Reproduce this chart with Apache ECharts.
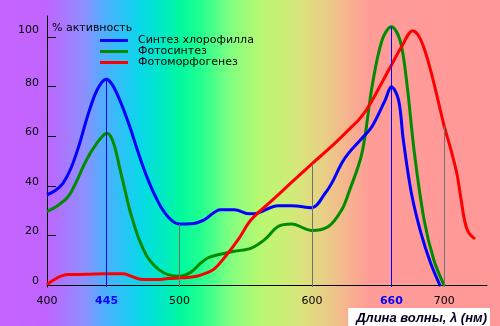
<!DOCTYPE html>
<html>
<head>
<meta charset="utf-8">
<script src="https://cdn.jsdelivr.net/npm/echarts@6/dist/echarts.min.js"></script>
<style>
  html, body { margin: 0; padding: 0; }
  #chart { width: 500px; height: 326px; }
</style>
</head>
<body>
<div id="chart"></div>
<script>
// Action spectra: [wavelength, nm ; activity, %]
const chlorophyllSynthesis = [
  [400, 36.4], [406, 38], [412, 41], [418, 47], [424, 56], [430, 67], [436, 76.5],
  [441, 81.5], [445, 83], [449, 81], [453, 77], [458, 70.5], [462.4, 64], [467, 56.5],
  [472, 48.5], [477, 41.5], [481.6, 36], [486, 31.5], [491.3, 27.5], [496, 25.3], [500, 24.6],
  [508.6, 24.7], [518.7, 26.3], [531, 30.4], [541.5, 30.4], [553, 28.7], [559, 29],
  [574.5, 32], [584.6, 32], [600, 31.2], [610, 37], [615, 41.1], [622.6, 49.2],
  [627.7, 53.2], [637.8, 59.2], [645.4, 63.9], [655.4, 74.7], [660, 80],
  [665.4, 74.7], [669, 58.6], [675.1, 37.1], [682.3, 21], [689.6, 8.9], [697, -0.5]
];
const photosynthesis = [
  [400, 29.7], [408, 32], [416, 35.7], [422, 41.5], [428, 48.5], [433, 53.5],
  [437.4, 57], [441, 59.5], [445, 61.2], [448, 60], [451, 56], [455, 47], [459, 38],
  [462.4, 30.4], [466, 24], [469.6, 18.3], [475, 12], [479.2, 8.9], [485, 6],
  [491.3, 4.2], [500, 3.5],
  [508.6, 5.2], [516.2, 8.9], [521.3, 10.9], [528.9, 12.2], [541.5, 13.6],
  [554.2, 14.9], [564.3, 18.3], [574.5, 23.6], [584.6, 24.6], [600, 22], [612.5, 23.6],
  [622.6, 30.4], [627.7, 37.1], [637.8, 53.2], [645.4, 80], [653, 98.8], [660, 104.2],
  [666.5, 98.8], [671.4, 82.7], [677.4, 53.2], [684.7, 26.3], [692, 10.2], [700, -0.3]
];
const photomorphogenesis = [
  [400, 0.2], [407.8, 2.9], [416, 4.2], [430, 4.3], [444, 4.5], [457.5, 4.5],
  [462.4, 3.8], [472, 2.2], [484, 2.2], [491.3, 2.6], [501, 2.9], [511, 3.3],
  [521, 5], [526.3, 6.5], [533.9, 11], [544.3, 18.3], [554.1, 26.3], [569.3, 33.8],
  [584.6, 41.4], [600, 48.9], [615, 56], [630.2, 63.9], [635.2, 66.5], [642.8, 72],
  [658, 86.7], [667.7, 96.1], [676.2, 102.6], [682.3, 98.8], [689.6, 86.7], [700, 63.9],
  [705, 54.5], [709.4, 45.1], [712.5, 35], [715.5, 25.5], [718.5, 21], [723.2, 18.6]
];

const seriesNames = ['Синтез хлорофилла', 'Фотосинтез', 'Фотоморфогенез'];
const xTickValues = [400, 445, 500, 600, 660, 700];
const highlightedWavelengths = [445, 660];
const yTickValues = [0, 20, 40, 60, 80, 100];
// drop lines: wavelength and the curve they rise to
const dropLines = [
  [445, 'chlorophyll'], [500, 'chlorophyll'], [600, 'morpho'],
  [660, 'photo'], [700, 'morpho']
];

const curves = {
  chlorophyll: chlorophyllSynthesis,
  photo: photosynthesis,
  morpho: photomorphogenesis
};
const Y_MIN = -0.8, Y_MAX = 108.5, X_MIN = 400, X_MAX = 732.2;
const FONT = 'DejaVu Sans';

function valueAt(curve, wl) {
  const p = curve.find(d => d[0] === wl);
  return p ? p[1] : 0;
}

const dropLineData = dropLines.map(([wl, key]) => {
  const highlight = highlightedWavelengths.includes(wl);
  return [
    { coord: [wl, Y_MIN], lineStyle: { color: highlight ? '#0000ff' : '#707070', width: 1, type: 'solid' } },
    { coord: [wl, valueAt(curves[key], wl)] }
  ];
});

const spectrum = new echarts.graphic.LinearGradient(0, 0, 1, 0, [
  { offset: 0.00, color: '#c864ff' },
  { offset: 0.09, color: '#c064ff' },
  { offset: 0.13, color: '#a878ff' },
  { offset: 0.17, color: '#8c90ff' },
  { offset: 0.20, color: '#5aa8ff' },
  { offset: 0.24, color: '#30c0f8' },
  { offset: 0.28, color: '#08d8e8' },
  { offset: 0.32, color: '#00e8c8' },
  { offset: 0.36, color: '#00f8a0' },
  { offset: 0.40, color: '#20ff90' },
  { offset: 0.46, color: '#80ff80' },
  { offset: 0.52, color: '#b8f870' },
  { offset: 0.58, color: '#d0ec78' },
  { offset: 0.62, color: '#e0dc80' },
  { offset: 0.66, color: '#ecc888' },
  { offset: 0.70, color: '#f8b090' },
  { offset: 0.74, color: '#ff9c98' },
  { offset: 1.00, color: '#ff9898' }
]);

const chart = echarts.init(document.getElementById('chart'), null, { renderer: 'canvas' });

const lineSeries = (name, data, color) => ({
  name, type: 'line', data, smooth: 0.35, showSymbol: false, symbol: 'none',
  lineStyle: { color, width: 3 }, itemStyle: { color }, z: 3, silent: true
});

chart.setOption({
  animation: false,
  backgroundColor: spectrum,
  textStyle: { fontFamily: FONT },
  title: {
    text: 'Длина волны, λ (нм)',
    right: 10, bottom: 0,
    backgroundColor: '#ffffff',
    padding: [3, 3, 1, 8],
    textStyle: { fontFamily: 'Liberation Sans', fontSize: 13, lineHeight: 14, fontStyle: 'italic', fontWeight: 'bold', color: '#000020' }
  },
  legend: {
    data: seriesNames,
    orient: 'vertical', left: 95, top: 30,
    icon: 'rect', itemWidth: 28, itemHeight: 3, itemGap: 0,
    textStyle: { fontFamily: FONT, fontSize: 11, lineHeight: 11, color: '#000', padding: [0, 0, 0, 5] }
  },
  grid: { left: 47, right: 13, top: 16, bottom: 39 },
  xAxis: {
    type: 'value', min: X_MIN, max: X_MAX,
    axisLine: { lineStyle: { color: '#000', width: 1 } },
    axisTick: { show: false },
    splitLine: { show: false },
    axisLabel: {
      customValues: xTickValues,
      margin: 9,
      fontFamily: FONT, fontSize: 11, color: '#000',
      formatter: v => highlightedWavelengths.includes(v) ? '{b|' + v + '}' : String(v),
      rich: { b: { fontFamily: FONT, fontSize: 11, fontWeight: 'bold', color: '#0000ff' } }
    }
  },
  yAxis: {
    type: 'value', min: Y_MIN, max: Y_MAX,
    name: '% активность', nameLocation: 'end', nameGap: -12,
    nameTextStyle: { fontFamily: FONT, fontSize: 11, color: '#000', align: 'left', verticalAlign: 'middle', padding: [0, 0, 0, 5] },
    axisLine: { show: true, lineStyle: { color: '#000', width: 1 } },
    axisTick: { show: true, inside: true, length: 9, customValues: yTickValues.filter(v => v > 0), lineStyle: { color: '#000' } },
    splitLine: { show: false },
    axisLabel: {
      customValues: yTickValues, margin: 8, fontFamily: FONT, fontSize: 11, color: '#000',
      formatter: v => (v === 100 ? '{top|' : '{n|') + v + '}',
      rich: {
        n: { fontFamily: FONT, fontSize: 11, color: '#000', padding: [0, 0, 8, 0] },
        top: { fontFamily: FONT, fontSize: 11, color: '#000', padding: [0, 0, 14, 0] }
      }
    }
  },
  series: [
    {
      name: 'drops', type: 'line', data: [], z: 2, silent: true,
      markLine: { silent: true, symbol: 'none', label: { show: false }, animation: false, data: dropLineData }
    },
    lineSeries(seriesNames[1], photosynthesis, '#008c00'),
    lineSeries(seriesNames[0], chlorophyllSynthesis, '#0000ff'),
    lineSeries(seriesNames[2], photomorphogenesis, '#ff0000')
  ]
});
</script>
</body>
</html>
